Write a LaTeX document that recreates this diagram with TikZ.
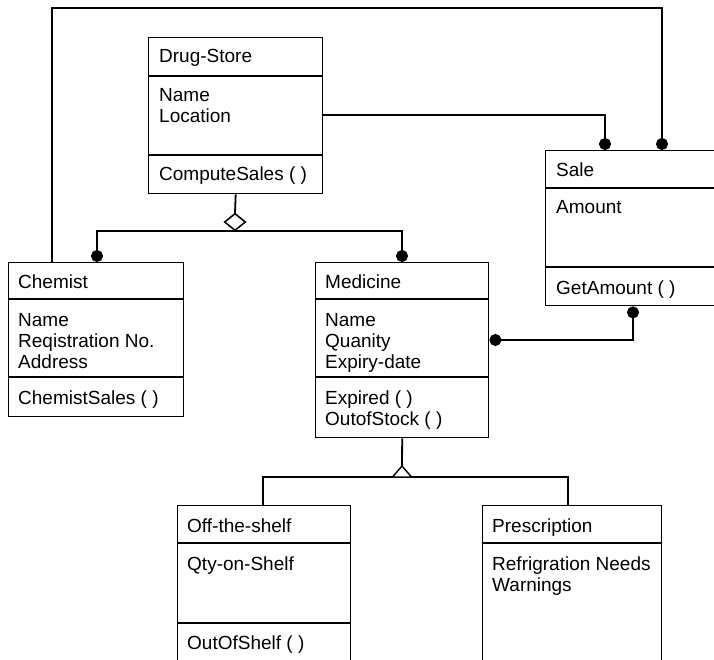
\documentclass[tikz,border=0pt]{standalone}
\usepackage{fontspec}
\setmainfont{Liberation Sans}
\usetikzlibrary{arrows.meta,shapes.geometric}
\newcommand{\umlfont}{\fontsize{19pt}{21pt}\selectfont}
\begin{document}
\begin{tikzpicture}[x=1pt, y=-1pt, line join=miter]
    \tikzstyle{cls}=[rectangle, draw=black, line width=1.4pt, anchor=north west, inner sep=0pt]
    \tikzstyle{sep}=[line width=1.4pt]
    \tikzstyle{txt}=[anchor=north west, align=left, inner sep=0pt, font=\umlfont]
    \tikzstyle{link}=[line width=1.8pt]
    \tikzstyle{dot}=[-{Circle[length=12pt]}]
    \tikzstyle{agg}=[diamond, draw=black, fill=white, line width=1.4pt, inner sep=0pt, minimum width=21pt, minimum height=17pt]
    \clip (0,0) rectangle (714,660);

    \node[cls, minimum width=174pt, minimum height=156pt] (drug) at (148,37) {};
    \node[cls, minimum width=180pt, minimum height=155pt] (sale) at (545,150) {};
    \node[cls, minimum width=175pt, minimum height=154pt] (chem) at (8,262) {};
    \node[cls, minimum width=173pt, minimum height=175pt] (med) at (315,262) {};
    \node[cls, minimum width=173pt, minimum height=155pt] (otc) at (177,505) {};
    \node[cls, minimum width=179pt, minimum height=155pt] (presc) at (482,505) {};

    \draw[sep] (drug.west |- 0,76) -- (drug.east |- 0,76);
    \draw[sep] (drug.west |- 0,155) -- (drug.east |- 0,155);
    \draw[sep] (sale.west |- 0,188) -- (sale.east |- 0,188);
    \draw[sep] (sale.west |- 0,267) -- (sale.east |- 0,267);
    \draw[sep] (chem.west |- 0,299) -- (chem.east |- 0,299);
    \draw[sep] (chem.west |- 0,377) -- (chem.east |- 0,377);
    \draw[sep] (med.west |- 0,299) -- (med.east |- 0,299);
    \draw[sep] (med.west |- 0,377) -- (med.east |- 0,377);
    \draw[sep] (otc.west |- 0,543) -- (otc.east |- 0,543);
    \draw[sep] (otc.west |- 0,623) -- (otc.east |- 0,623);
    \draw[sep] (presc.west |- 0,543) -- (presc.east |- 0,543);

    \node[txt] (drugName) at (159,49) {Drug-Store};
    \node[txt] (drugAttr) at (159,88) {Name\\Location};
    \node[txt] (drugOps) at (159,167) {ComputeSales ( )};
    \node[txt] (saleName) at (556,163) {Sale};
    \node[txt] (saleAttr) at (556,200) {Amount};
    \node[txt] (saleOps) at (556,281) {GetAmount ( )};
    \node[txt] (chemName) at (18,275) {Chemist};
    \node[txt] (chemAttr) at (18,313) {Name\\Reqistration No.\\Address};
    \node[txt] (chemOps) at (18,391) {ChemistSales ( )};
    \node[txt] (medName) at (325,275) {Medicine};
    \node[txt] (medAttr) at (325,313) {Name\\Quanity\\Expiry-date};
    \node[txt] (medOps) at (325,391) {Expired ( )\\OutofStock ( )};
    \node[txt] (otcName) at (187,519) {Off-the-shelf};
    \node[txt] (otcAttr) at (187,557) {Qty-on-Shelf};
    \node[txt] (otcOps) at (187,636) {OutOfShelf ( )};
    \node[txt] (prescName) at (492,519) {Prescription};
    \node[txt] (prescAttr) at (492,557) {Refrigration Needs\\Warnings};

    \draw[link, dot] (chem.north -| 52,0) -- ++(0,-254) -| (sale.north -| 662,0);
    \draw[link, dot] (drug.east |- 0,115) -| (sale.north -| 605,0);
    \draw[link, {Circle[length=12pt]}-{Circle[length=12pt]}] (med.east |- 0,340) -| (sale.south -| 633,0);

    \node[agg] (whole) at (235,222) {};
    \draw[link] (drug.south) -- (whole.north);
    \draw[link, dot] (whole.south) -| (chem.north -| 97,0);
    \draw[link, dot] (whole.south) -| (med.north -| 402,0);
    \node[agg] at (whole) {};

    \coordinate (kind) at (402,466);
    \coordinate (kindBase) at (402,477);
    \draw[link] (med.south) -- (kind);
    \draw[link] (otc.north -| 263,0) |- (kindBase) -| (presc.north -| 568,0);
    \draw[sep, fill=white] (kind) -- ++(9.5,11) -- ++(-19,0) -- cycle;
\end{tikzpicture}
\end{document}
